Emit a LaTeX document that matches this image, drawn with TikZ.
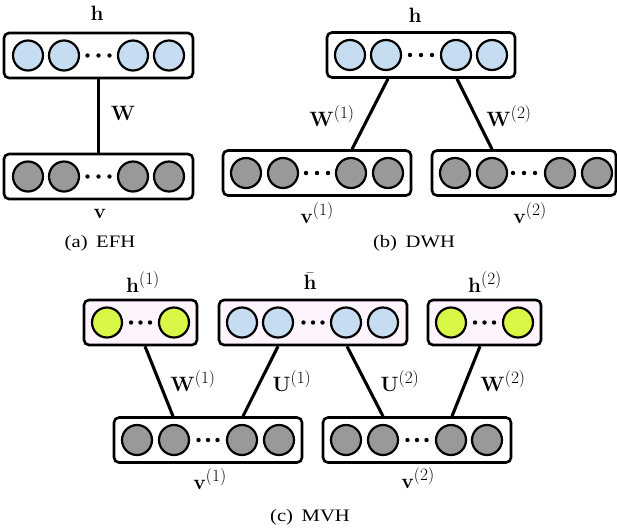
\documentclass[tikz,border=0pt]{standalone}
\usepackage[no-math]{fontspec}
\usepackage{graphicx}
\setmainfont{Liberation Serif}
\definecolor{hblue}{HTML}{C6DDF1}
\definecolor{vgray}{HTML}{999999}
\definecolor{hyel}{HTML}{D8F747}
\definecolor{pinkbg}{HTML}{FEF4FE}
\tikzset{
  layerbox/.style={draw=black, line width=2.6pt, rounded corners=5pt, minimum height=45pt, inner sep=0pt},
  unit/.style={circle, draw=black, line width=2.2pt, minimum size=30pt, inner sep=0pt},
  dotnode/.style={circle, fill=black, minimum size=4.4pt, inner sep=0pt},
  conn/.style={line width=3.1pt},
  lbl/.style={font=\fontsize{22}{26}\selectfont, inner sep=0pt},
  caption/.style={font=\fontsize{17.5}{21}\selectfont, inner sep=0pt},
}
\newcommand{\capt}[1]{\scalebox{1.18}[1]{#1}}
\newcommand{\sps}[1]{^{\mbox{\fontsize{16.5}{17}\selectfont$(#1)$}}}
% \mklayer{name}{x}{y}{width}{boxfill}{unitfill}{offsets}{dot spacing}
\newcommand{\mklayer}[8]{%
  \node[layerbox, fill=#5, minimum width=#4] (#1) at (#2,#3) {};
  \foreach \o [count=\i] in {#7} {
    \node[unit, fill=#6] (#1-\i) at ([xshift=\o]#1.center) {};
  }
  \foreach \k [count=\j] in {-1,0,1} {
    \node[dotnode] (#1-d\j) at ([xshift=\k*#8]#1.center) {};
  }
}
\begin{document}
\begin{tikzpicture}[x=1pt,y=-1pt]
\useasboundingbox (0,0) rectangle (617,531);
% (a) EFH
\mklayer{hA}{98.5}{55.5}{189pt}{white}{hblue}{-70.5,-34.5,34.5,70.5}{11}
\mklayer{vA}{98.5}{176.5}{189pt}{white}{vgray}{-70.5,-34.5,34.5,70.5}{11}
\draw[conn] (hA.south) -- (vA.north);
\node[lbl] (lhA) at (97,13) {$\mathbf{h}$};
\node[lbl] (lvA) at (100,214) {$\mathbf{v}$};
\node[lbl] (lWA) at (123,113) {$\mathbf{W}$};
\node[caption] (capA) at (100,243) {\capt{(a)\, EFH}};
% (b) DWH
\mklayer{hB}{421}{55}{188pt}{white}{hblue}{-71,-35,35,71}{11}
\mklayer{vB1}{317}{173}{188pt}{white}{vgray}{-71,-34,34,71}{11}
\mklayer{vB2}{524}{173}{184pt}{white}{vgray}{-69,-32,36,73}{11}
\draw[conn] ([xshift=-33]hB.south) -- ([xshift=35]vB1.north);
\draw[conn] ([xshift=36]hB.south) -- ([xshift=-32]vB2.north);
\node[lbl] (lhB) at (415,15) {$\mathbf{h}$};
\node[lbl] (lvB1) at (317,213) {$\mathbf{v}\sps{1}$};
\node[lbl] (lvB2) at (530,213) {$\mathbf{v}\sps{2}$};
\node[lbl] (lWB1) at (332,116) {$\mathbf{W}\sps{1}$};
\node[lbl] (lWB2) at (509,116) {$\mathbf{W}\sps{2}$};
\node[caption] (capB) at (414,243) {\capt{(b)\, DWH}};
% (c) MVH
\mklayer{h1}{140.5}{322.5}{113pt}{pinkbg}{hyel}{-33.5,33.5}{9.5}
\mklayer{hbar}{313}{322.5}{188pt}{pinkbg}{hblue}{-71,-35,33,70}{9.5}
\mklayer{h2}{484.5}{322.5}{113pt}{pinkbg}{hyel}{-33.5,33.5}{9.5}
\mklayer{v1}{208}{440}{188pt}{white}{vgray}{-71,-34,34,71}{9.5}
\mklayer{v2}{417}{440}{188pt}{white}{vgray}{-71,-34,34,70}{9.5}
\draw[conn] ([xshift=4.5]h1.south) -- ([xshift=-35]v1.north);
\draw[conn] ([xshift=-35]hbar.south) -- ([xshift=35]v1.north);
\draw[conn] ([xshift=34]hbar.south) -- ([xshift=-34]v2.north);
\draw[conn] ([xshift=-4.5]h2.south) -- ([xshift=35]v2.north);
\node[lbl] (lh1) at (143,282) {$\mathbf{h}\sps{1}$};
\node[lbl] (lhbar) at (310,281) {$\bar{\mathbf{h}}$};
\node[lbl] (lh2) at (485,282) {$\mathbf{h}\sps{2}$};
\node[lbl] (lv1) at (210,479) {$\mathbf{v}\sps{1}$};
\node[lbl] (lv2) at (418,478) {$\mathbf{v}\sps{2}$};
\node[lbl] (lW1) at (193,381) {$\mathbf{W}\sps{1}$};
\node[lbl] (lU1) at (292,381) {$\mathbf{U}\sps{1}$};
\node[lbl] (lU2) at (400,381) {$\mathbf{U}\sps{2}$};
\node[lbl] (lW2) at (503,381) {$\mathbf{W}\sps{2}$};
\node[caption] (capC) at (310,517) {\capt{(c)\, MVH}};
\end{tikzpicture}
\end{document}
